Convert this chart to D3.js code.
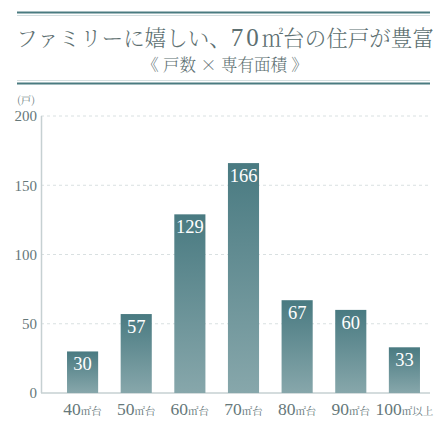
<!DOCTYPE html>
<html>
<head>
<meta charset="utf-8">
<script src="https://cdn.jsdelivr.net/npm/d3@7"></script>
<style>
  body { margin: 0; background: #fff; }
  svg { display: block; }
  .jp { font-family: "Noto Serif CJK JP", "Noto Sans CJK JP", serif; }
  .num { font-family: "Liberation Serif", "DejaVu Serif", serif; }
</style>
</head>
<body>
<div id="chart"></div>
<script>
const categories = ["40", "50", "60", "70", "80", "90", "100"];
const suffixes = ["㎡台", "㎡台", "㎡台", "㎡台", "㎡台", "㎡台", "㎡以上"];
const units = [30, 57, 129, 166, 67, 60, 33];
const yTicks = [0, 50, 100, 150, 200];

const W = 445, H = 429;
const svg = d3.select("#chart").append("svg").attr("width", W).attr("height", H);

const teal = "#4a7b80", pale = "#d3dedf", ink = "#66787a";

// gradient for bars
const grad = svg.append("defs").append("linearGradient")
  .attr("id", "barGrad").attr("x1", 0).attr("y1", 0).attr("x2", 0).attr("y2", 1);
grad.append("stop").attr("offset", "0%").attr("stop-color", "#497a81");
grad.append("stop").attr("offset", "100%").attr("stop-color", "#87a7ab");

// header rules
const rule = (y, c, w) => svg.append("line").attr("x1", 17).attr("x2", 430)
  .attr("y1", y).attr("y2", y).attr("stroke", c).attr("stroke-width", w);
rule(12.5, teal, 2.2);
rule(15.5, pale, 1.2);
rule(80.5, pale, 1.2);
rule(83.5, teal, 2.2);

// title
const title = svg.append("text").attr("class", "jp").attr("x", 225).attr("y", 46)
  .attr("text-anchor", "middle").attr("fill", "#5d6f71")
  .attr("font-size", 21.5).attr("font-weight", 300);
title.append("tspan").text("ファミリーに嬉しい、");
title.append("tspan").attr("class", "num").attr("font-size", 25).attr("letter-spacing", 3).text("70");
title.append("tspan").text("㎡台の住戸が豊富");
svg.append("text").attr("class", "jp").attr("x", 225).attr("y", 71)
  .attr("text-anchor", "middle").attr("fill", "#5d6f71")
  .attr("font-size", 16.5).attr("font-weight", 300)
  .text("《 戸数 × 専有面積 》");

// scales
const x = d3.scaleBand().domain(categories).range([44.5, 442.5]).paddingInner(0.42).paddingOuter(0.42);
const y = d3.scaleLinear().domain([0, 200]).range([393, 116]);

// grid
svg.append("g").selectAll("line").data(yTicks.filter(d => d > 0)).join("line")
  .attr("x1", 41).attr("x2", 430)
  .attr("y1", d => y(d)).attr("y2", d => y(d))
  .attr("stroke", "#d9e0e1").attr("stroke-dasharray", "3,3").attr("stroke-width", 1);

// axes lines
svg.append("line").attr("x1", 41.5).attr("x2", 41.5).attr("y1", y(200)).attr("y2", y(0))
  .attr("stroke", "#c6d0d2").attr("stroke-width", 1.5);
svg.append("line").attr("x1", 41).attr("x2", 430).attr("y1", y(0)).attr("y2", y(0))
  .attr("stroke", "#c6d0d2").attr("stroke-width", 1.5);

// y axis labels
const yAxis = svg.append("g").attr("transform", "translate(41,0)")
  .call(d3.axisLeft(y).tickValues(yTicks).tickSize(0).tickPadding(4));
yAxis.select(".domain").remove();
yAxis.selectAll("text").attr("class", "num").attr("font-size", 15).attr("fill", ink);

svg.append("text").attr("class", "jp").attr("x", 26).attr("y", 104)
  .attr("text-anchor", "middle").attr("fill", ink).attr("font-size", 10.5).text("(戸)");

// bars
svg.append("g").selectAll("rect").data(units).join("rect")
  .attr("x", (d, i) => x(categories[i]))
  .attr("width", x.bandwidth())
  .attr("y", d => y(d))
  .attr("height", d => y(0) - y(d))
  .attr("fill", "url(#barGrad)");

svg.append("g").selectAll("text").data(units).join("text")
  .attr("class", "num")
  .attr("x", (d, i) => x(categories[i]) + x.bandwidth() / 2)
  .attr("y", d => y(d) + 19)
  .attr("text-anchor", "middle").attr("fill", "#fff").attr("font-size", 18.5)
  .text(d => d);

// x labels
const xl = svg.append("g").selectAll("text").data(categories).join("text")
  .attr("x", d => x(d) + x.bandwidth() / 2)
  .attr("y", 415)
  .attr("text-anchor", "middle").attr("fill", ink);
xl.append("tspan").attr("class", "num").attr("font-size", 17.5).text(d => d);
xl.append("tspan").attr("class", "jp").attr("font-size", 10.5).text((d, i) => suffixes[i]);
</script>
</body>
</html>
